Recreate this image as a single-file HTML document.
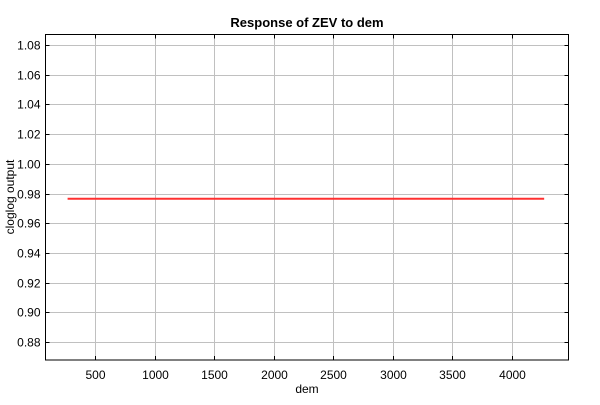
<!DOCTYPE html>
<html><head><style>
body{margin:0;background:#fff;}
svg text{font-family:"Liberation Sans",sans-serif;font-size:12px;fill:#000;}
</style></head><body>
<svg width="600" height="400">
<rect width="600" height="400" fill="#fff"/>
<text x="307" y="27" text-anchor="middle" style="font-weight:bold;font-size:13px">Response of ZEV to dem</text>
<g id="grid"></g>
<g id="ticks"></g>
<g id="series"></g>
<rect x="45.5" y="34.5" width="523" height="325.5" fill="none" stroke="#000"/>
<text x="307" y="393" text-anchor="middle">dem</text>
<text transform="translate(14,197) rotate(-90)" text-anchor="middle">cloglog output</text>
</svg>
<script>
const xTicks=[500,1000,1500,2000,2500,3000,3500,4000];
const yTicks=[0.88,0.90,0.92,0.94,0.96,0.98,1.00,1.02,1.04,1.06,1.08];
const yLabels=["0.88","0.90","0.92","0.94","0.96","0.98","1.00","1.02","1.04","1.06","1.08"];
const seriesX=[270,4270];
const seriesY=[0.9765,0.9765];
const L=45.5,R=568.5,T=34.5,B=360;
const x=v=>95+(v-500)*(417/3500);
const y=v=>342+(0.88-v)*(297/0.2);
const NS="http://www.w3.org/2000/svg";
const g=document.getElementById('grid'),tk=document.getElementById('ticks'),s=document.getElementById('series');
function mk(tag,at,p){const e=document.createElementNS(NS,tag);for(const k in at)e.setAttribute(k,at[k]);p.appendChild(e);return e;}
xTicks.forEach(v=>{const px=Math.round(x(v))+0.5;
const l=mk('line',{x1:px,x2:px,y1:T,y2:B,stroke:'#c0c0c0'},g);


mk('line',{x1:px,x2:px,y1:T,y2:T+4,stroke:'#000'},tk);
mk('line',{x1:px,x2:px,y1:B,y2:B-4,stroke:'#000'},tk);
const t=mk('text',{x:px,y:B+19,'text-anchor':'middle'},tk);t.textContent=v;


});
yTicks.forEach((v,i)=>{const py=Math.round(y(v))+0.5;
const l=mk('line',{x1:L,x2:R,y1:py,y2:py,stroke:'#c0c0c0'},g);


mk('line',{x1:L,x2:L+4,y1:py,y2:py,stroke:'#000'},tk);
mk('line',{x1:R,x2:R-4,y1:py,y2:py,stroke:'#000'},tk);
const t=mk('text',{x:L-5,y:py+4,'text-anchor':'end'},tk);t.textContent=yLabels[i];


});
const pl=mk('polyline',{points:seriesX.map((v,i)=>x(v)+','+y(seriesY[i])).join(' '),fill:'none',stroke:'#ff3030','stroke-width':2},s);


</script>
</body></html>
